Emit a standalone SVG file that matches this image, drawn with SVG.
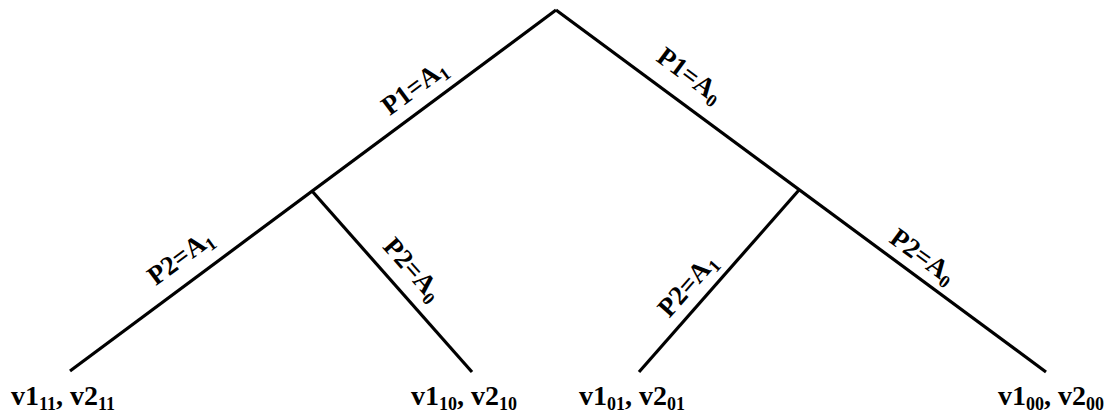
<svg xmlns="http://www.w3.org/2000/svg" width="1112" height="413" viewBox="0 0 1112 413">
<style>
.edge{stroke:#000;stroke-width:3.2;fill:none;stroke-linecap:butt}
.lbl{font-family:"Liberation Serif","Times New Roman",serif;font-weight:bold;font-size:27px;fill:#000}
.leaf{font-family:"Liberation Serif","Times New Roman",serif;font-weight:bold;font-size:28px;fill:#000}
.sub{font-size:18px}
</style>
<rect width="1112" height="413" fill="#fff"/>
<g id="connectors">
<line class="edge" x1="556" y1="10" x2="70" y2="371"/>
<line class="edge" x1="556" y1="10" x2="1046" y2="372"/>
<line class="edge" x1="312" y1="191" x2="472" y2="372"/>
<line class="edge" x1="799" y1="190" x2="639" y2="372"/>
</g>
<g id="edge-labels">
<g transform="translate(414,87) rotate(-36.6)"><text class="lbl" x="0" y="9" text-anchor="middle">P1=A<tspan class="sub" dy="5">1</tspan></text></g>
<g transform="translate(690,75) rotate(36.5)"><text class="lbl" x="0" y="9" text-anchor="middle">P1=A<tspan class="sub" dy="5">0</tspan></text></g>
<g transform="translate(180,257) rotate(-36.6)"><text class="lbl" x="0" y="9" text-anchor="middle">P2=A<tspan class="sub" dy="5">1</tspan></text></g>
<g transform="translate(413,269) rotate(48.5)"><text class="lbl" x="0" y="9" text-anchor="middle">P2=A<tspan class="sub" dy="5">0</tspan></text></g>
<g transform="translate(687,285) rotate(-48.5)"><text class="lbl" x="0" y="9" text-anchor="middle">P2=A<tspan class="sub" dy="5">1</tspan></text></g>
<g transform="translate(923,256) rotate(36.2)"><text class="lbl" x="0" y="9" text-anchor="middle">P2=A<tspan class="sub" dy="5">0</tspan></text></g>
</g>
<g id="leaf-11"><text class="leaf" x="11" y="405">v1<tspan class="sub" dy="5">11</tspan><tspan dy="-5">, v2</tspan><tspan class="sub" dy="5">11</tspan></text></g>
<g id="leaf-10"><text class="leaf" x="411" y="405">v1<tspan class="sub" dy="5">10</tspan><tspan dy="-5">, v2</tspan><tspan class="sub" dy="5">10</tspan></text></g>
<g id="leaf-01"><text class="leaf" x="579" y="405">v1<tspan class="sub" dy="5">01</tspan><tspan dy="-5">, v2</tspan><tspan class="sub" dy="5">01</tspan></text></g>
<g id="leaf-00"><text class="leaf" x="998" y="405">v1<tspan class="sub" dy="5">00</tspan><tspan dy="-5">, v2</tspan><tspan class="sub" dy="5">00</tspan></text></g>
</svg>
